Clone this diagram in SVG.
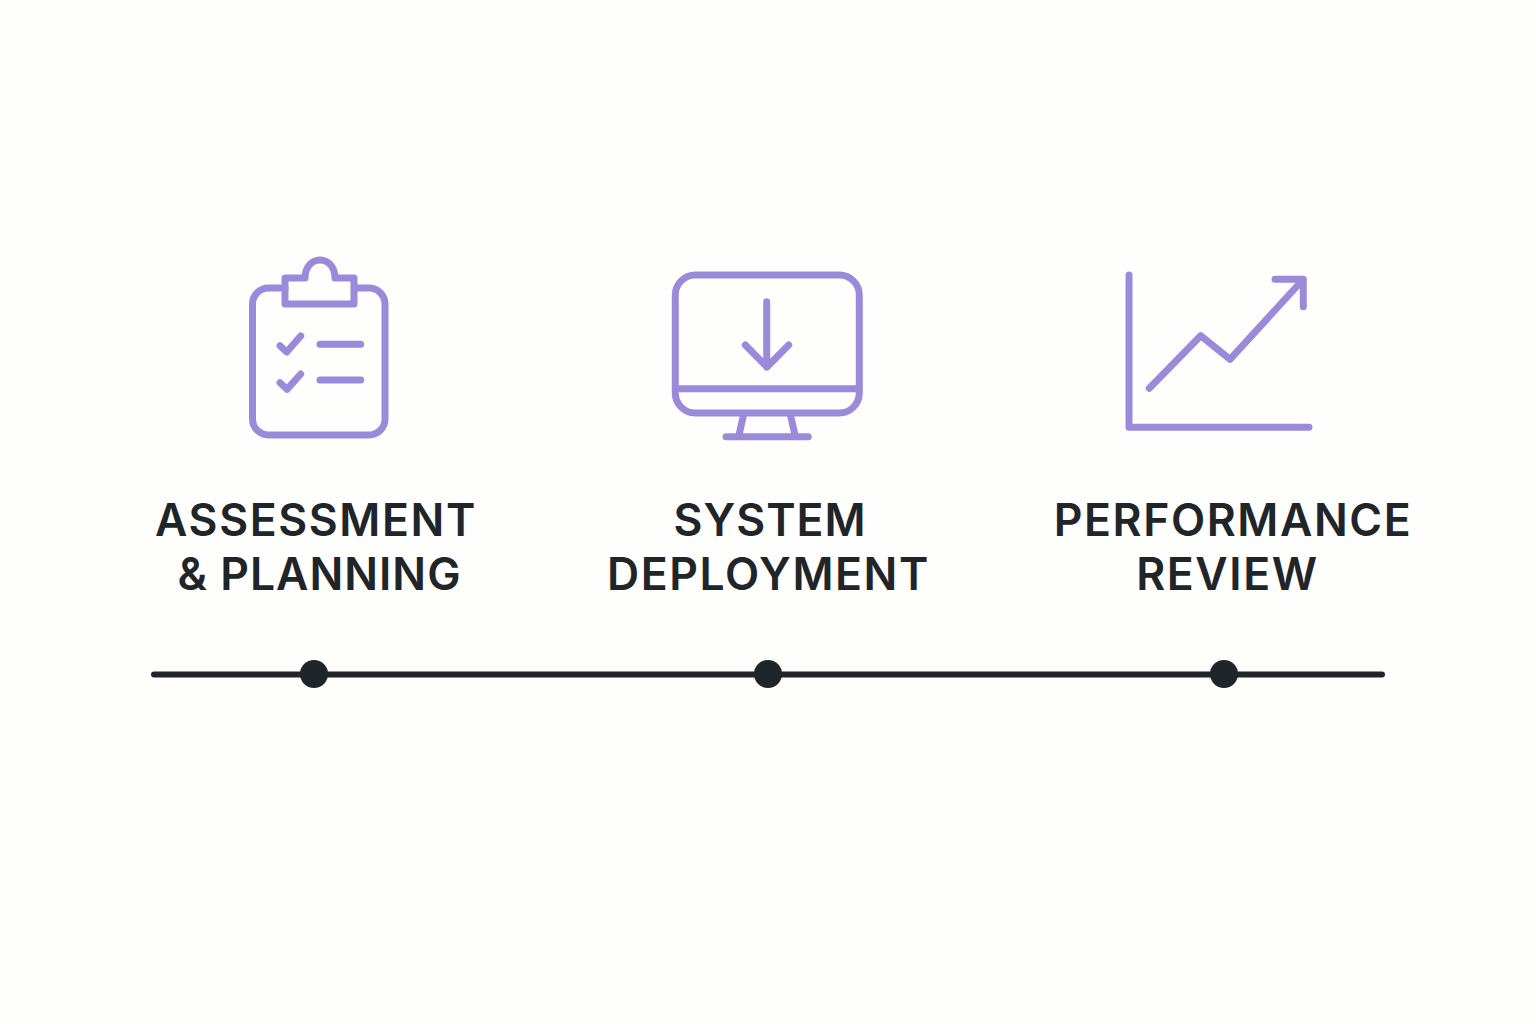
<svg xmlns="http://www.w3.org/2000/svg" width="1536" height="1024" viewBox="0 0 1536 1024">
<style>
.i{fill:none;stroke:#9a8bda;stroke-width:7;stroke-linecap:round;stroke-linejoin:round}
.t{font-family:Inter,"Liberation Sans",sans-serif;font-weight:600;font-size:44.500px;letter-spacing:1.600px;fill:#1f2529;text-anchor:middle}
.n{letter-spacing:1px}
.d{fill:#1f2529}
</style>
<rect width="1536" height="1024" fill="#fefefd"/>
<g id="connectors"><path d="M154 674.500H1382" fill="none" stroke="#1f2529" stroke-width="6" stroke-linecap="round"/></g>
<g id="node-assessment">
<path class="i" d="M285 288H268.500A16 16 0 0 0 252.500 304V419A16 16 0 0 0 268.500 435H369A16 16 0 0 0 385 419V304A16 16 0 0 0 369 288H354"/>
<path class="i" d="M285 278H305C305 268 311 260 320 260S335 268 335 278H354V304H285Z"/>
<path class="i" d="M280 345.700L286.700 352L300.700 336M280 382.700L287 389.300L300.700 374M320 344.300H360.700M320 380H360.700"/>
<text class="t" x="316" y="536">ASSESSMENT</text>
<text class="t n" x="319.500" y="590">&amp; PLANNING</text>
<circle class="d" cx="314" cy="674" r="14"/>
</g>
<g id="node-deployment">
<rect class="i" x="675.300" y="275" width="184" height="138" rx="20"/>
<path class="i" d="M675.300 388.700H859.300M766.700 301.700V367M745.300 345L767 367L788.700 345M743.300 416L739 435M790.700 416L795 435M726 436.700H808.300"/>
<text class="t n" x="770" y="536">SYSTEM</text>
<text class="t" x="768.500" y="590">DEPLOYMENT</text>
<circle class="d" cx="768" cy="674" r="14"/>
</g>
<g id="node-performance">
<path class="i" d="M1129 275V427.300H1309M1149.300 388.300L1200.700 335.700L1230 359.300L1302.700 280M1275 279.300H1303.300V306.700"/>
<text class="t" x="1233" y="536">PERFORMANCE</text>
<text class="t" x="1227.500" y="590">REVIEW</text>
<circle class="d" cx="1224" cy="674" r="14"/>
</g>
</svg>
